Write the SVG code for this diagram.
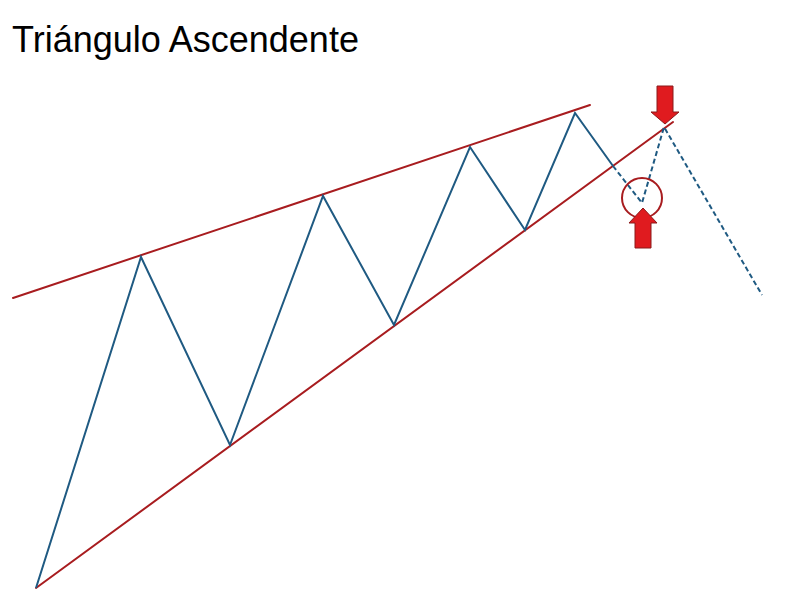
<svg xmlns="http://www.w3.org/2000/svg" width="800" height="600" viewBox="0 0 800 600">
<style>
.trend{stroke:#a81c1f;stroke-width:2;fill:none;stroke-linecap:round}
.price{stroke:#1f5a82;stroke-width:2;fill:none;stroke-linejoin:miter}
.dash{stroke:#1f5a82;stroke-width:2;fill:none;stroke-dasharray:5,3}
.arrow{fill:#e01b1f;stroke:#8a1a1a;stroke-width:1}
.title{font-family:"Liberation Sans",Arial,sans-serif;font-size:36px;fill:#000}
</style>
<rect width="800" height="600" fill="#fff"/>
<text class="title" x="12" y="52">Triángulo Ascendente</text>
<g id="connectors">
<line class="trend" x1="13" y1="298" x2="590" y2="105"/>
<line class="trend" x1="36" y1="588" x2="673" y2="122"/>
<polyline class="price" points="36,588 141,257 230,445 323,196 394,325 470,147 525,230 575,113 613,166"/>
<polyline class="dash" points="613,166 642,203 664,127 762,295"/>
</g>
<g id="breakout-circle">
<circle cx="642" cy="198" r="20" fill="none" stroke="#a81c1f" stroke-width="2"/>
</g>
<g id="arrow-down">
<path class="arrow" d="M657,86 H673 V112 H679 L665,124 L651,112 H657 Z"/>
</g>
<g id="arrow-up">
<path class="arrow" d="M635,248 H651 V223 H657 L643,208 L629,223 H635 Z"/>
</g>
</svg>
